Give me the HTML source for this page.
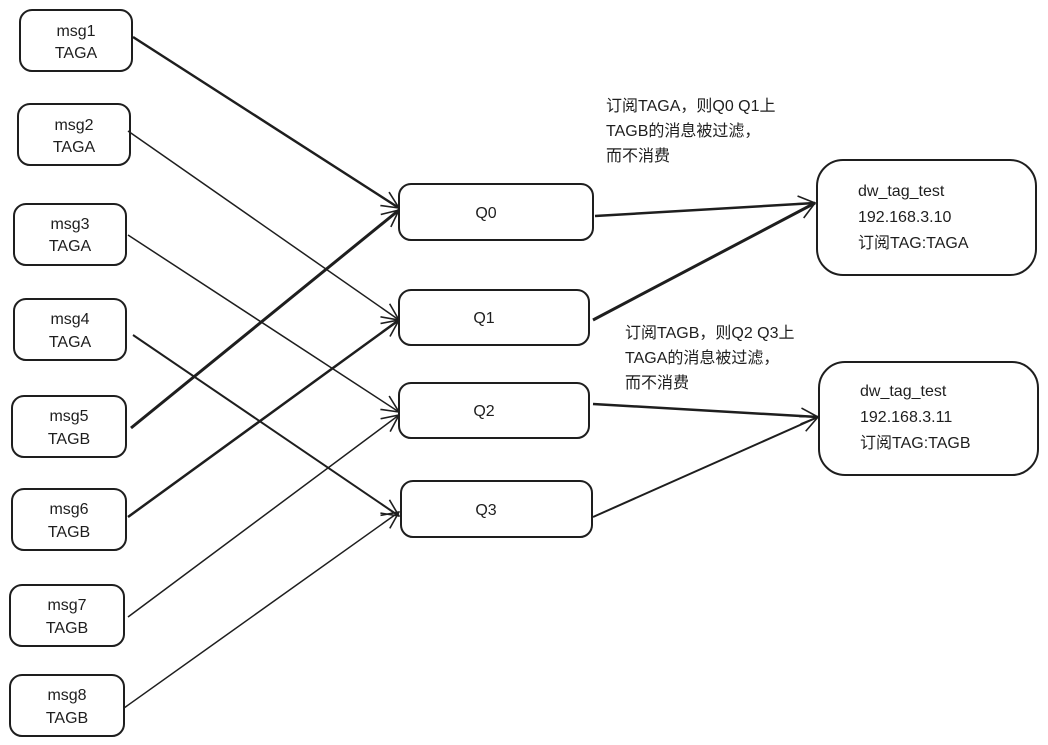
<!DOCTYPE html>
<html><head><meta charset="utf-8"><style>
html,body{margin:0;padding:0;background:#fff;}
svg{display:block;}
text{font-family:"Liberation Sans","Noto Sans CJK SC",sans-serif;font-size:16px;fill:#1e1e1e;}
</style></head><body>
<svg width="1048" height="745" viewBox="0 0 1048 745" xmlns="http://www.w3.org/2000/svg">
<defs>
<marker id="a" viewBox="0 0 20 20" refX="19" refY="10" markerWidth="20" markerHeight="20" markerUnits="userSpaceOnUse" orient="auto">
<path d="M2,2 L19,10 L2,18" fill="none" stroke="#1e1e1e" stroke-width="1.6"/>
</marker>
</defs>
<g fill="none" stroke="#1e1e1e" stroke-width="2">
<rect x="20" y="10" width="112" height="61" rx="12"/>
<rect x="18" y="104" width="112" height="61" rx="12"/>
<rect x="14" y="204" width="112" height="61" rx="12"/>
<rect x="14" y="299" width="112" height="61" rx="12"/>
<rect x="12" y="396" width="114" height="61" rx="12"/>
<rect x="12" y="489" width="114" height="61" rx="12"/>
<rect x="10" y="585" width="114" height="61" rx="12"/>
<rect x="10" y="675" width="114" height="61" rx="12"/>
<rect x="399" y="184" width="194" height="56" rx="12"/>
<rect x="399" y="290" width="190" height="55" rx="12"/>
<rect x="399" y="383" width="190" height="55" rx="12"/>
<rect x="401" y="481" width="191" height="56" rx="12"/>
<rect x="817" y="160" width="219" height="115" rx="26"/>
<rect x="819" y="362" width="219" height="113" rx="26"/>
</g>
<g fill="none" stroke="#1e1e1e" marker-end="url(#a)">
<path d="M133,37 L399,208" stroke-width="2.5"/>
<path d="M128,131 L399,320" stroke-width="1.5"/>
<path d="M128,235 L399,412" stroke-width="1.5"/>
<path d="M133,335 L399,516" stroke-width="2"/>
<path d="M131,428 L399,210" stroke-width="3"/>
<path d="M128,517 L399,320" stroke-width="2.5"/>
<path d="M128,617 L399,415" stroke-width="1.5"/>
<path d="M124,708 L399,512" stroke-width="1.5"/>
<path d="M595,216 L815,203" stroke-width="2.5"/>
<path d="M593,320 L815,203" stroke-width="3"/>
<path d="M593,404 L818,417" stroke-width="2.5"/>
<path d="M593,517 L818,417" stroke-width="2"/>
</g>
<g text-anchor="middle">
<text x="76" y="36">msg1</text><text x="76" y="58">TAGA</text>
<text x="74" y="130">msg2</text><text x="74" y="152">TAGA</text>
<text x="70" y="229">msg3</text><text x="70" y="251">TAGA</text>
<text x="70" y="324">msg4</text><text x="70" y="347">TAGA</text>
<text x="69" y="421">msg5</text><text x="69" y="444">TAGB</text>
<text x="69" y="514">msg6</text><text x="69" y="537">TAGB</text>
<text x="67" y="610">msg7</text><text x="67" y="633">TAGB</text>
<text x="67" y="700">msg8</text><text x="67" y="723">TAGB</text>
<text x="486" y="218">Q0</text>
<text x="484" y="323">Q1</text>
<text x="484" y="416">Q2</text>
<text x="486" y="515">Q3</text>
</g>
<text x="858" y="196">dw_tag_test</text>
<text x="858" y="222">192.168.3.10</text>
<text x="858" y="248">订阅TAG:TAGA</text>
<text x="860" y="396">dw_tag_test</text>
<text x="860" y="422">192.168.3.11</text>
<text x="860" y="448">订阅TAG:TAGB</text>
<text x="606" y="111">订阅TAGA，则Q0 Q1上</text>
<text x="606" y="136">TAGB的消息被过滤，</text>
<text x="606" y="161">而不消费</text>
<text x="625" y="338">订阅TAGB，则Q2 Q3上</text>
<text x="625" y="363">TAGA的消息被过滤，</text>
<text x="625" y="388">而不消费</text>
</svg>
</body></html>
